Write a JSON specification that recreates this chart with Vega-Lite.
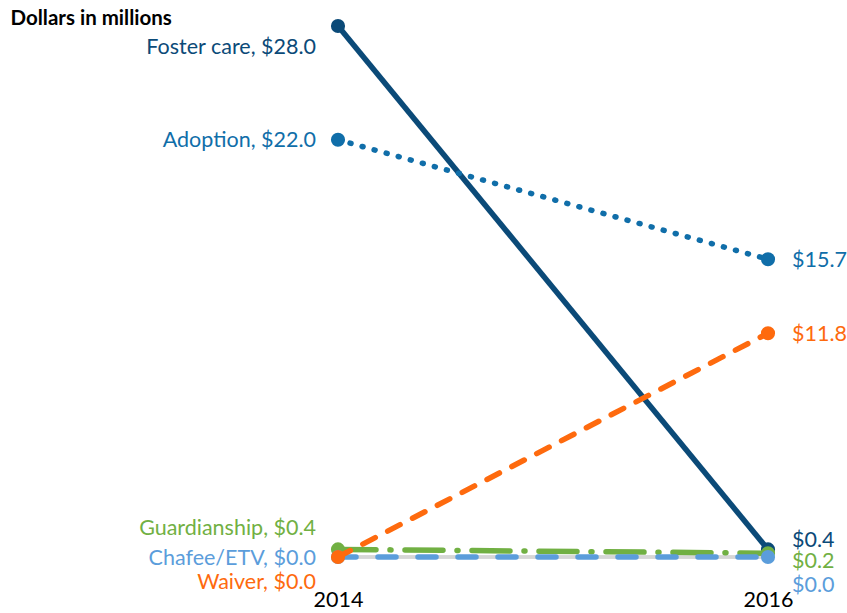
{
  "$schema": "https://vega.github.io/schema/vega-lite/v6.json",
  "width": 430,
  "height": 531,
  "autosize": {"type": "none"},
  "padding": {"left": 338, "top": 26, "right": 79, "bottom": 56},
  "background": "white",
  "config": {"font": "Lato", "view": {"stroke": null}},
  "data": {"values": [
    {"series": "Foster care", "year": 2014, "value": 28.0, "label": "Foster care, $28.0"},
    {"series": "Foster care", "year": 2016, "value": 0.4, "label": "$0.4"},
    {"series": "Adoption", "year": 2014, "value": 22.0, "label": "Adoption, $22.0"},
    {"series": "Adoption", "year": 2016, "value": 15.7, "label": "$15.7"},
    {"series": "Guardianship", "year": 2014, "value": 0.4, "label": "Guardianship, $0.4"},
    {"series": "Guardianship", "year": 2016, "value": 0.2, "label": "$0.2"},
    {"series": "Chafee/ETV", "year": 2014, "value": 0.0, "label": "Chafee/ETV, $0.0"},
    {"series": "Chafee/ETV", "year": 2016, "value": 0.0, "label": "$0.0"},
    {"series": "Waiver", "year": 2014, "value": 0.0, "label": "Waiver, $0.0"},
    {"series": "Waiver", "year": 2016, "value": 11.8, "label": "$11.8"}
  ]},
  "encoding": {
    "x": {"field": "year", "type": "quantitative", "scale": {"domain": [2014, 2016]},
      "axis": {"values": [2014, 2016], "format": "d", "title": null, "domain": false, "ticks": false, "grid": false,
        "labelFontSize": 21.5, "labelColor": "#000000", "labelPadding": 32, "labelBaseline": "top", "labelFlush": false}},
    "y": {"field": "value", "type": "quantitative", "scale": {"domain": [0, 28]},
      "axis": {"title": "Dollars in millions", "labels": false, "ticks": false, "domain": false, "grid": false,
        "titleAngle": 0, "titleX": -328, "titleY": -2, "titleAlign": "left", "titleBaseline": "alphabetic",
        "titleFontSize": 20.5, "titleFontWeight": "bold", "titleColor": "#000000"}}
  },
  "layer": [
    {"mark": {"type": "rule", "color": "#d6d6d6", "strokeWidth": 2.5}, "encoding": {"y": {"datum": 0}, "x": {"datum": 2014}, "x2": {"datum": 2016}}},
    {"transform": [{"filter": "datum.series === 'Foster care'"}], "mark": {"type": "line", "color": "#0b4a78", "strokeWidth": 5.5}},
    {"transform": [{"filter": "datum.series === 'Foster care'"}], "mark": {"type": "circle", "color": "#0b4a78", "opacity": 1, "size": 200}},
    {"transform": [{"filter": "datum.series === 'Adoption'"}], "mark": {"type": "line", "color": "#106ea9", "strokeWidth": 5.5, "strokeDash": [1, 11.5], "strokeCap": "round"}},
    {"transform": [{"filter": "datum.series === 'Adoption'"}], "mark": {"type": "circle", "color": "#106ea9", "opacity": 1, "size": 200}},
    {"transform": [{"filter": "datum.series === 'Guardianship'"}], "mark": {"type": "line", "color": "#71b043", "strokeWidth": 5.5, "strokeDash": [38, 14, 1, 14], "strokeCap": "round"}},
    {"transform": [{"filter": "datum.series === 'Guardianship'"}], "mark": {"type": "circle", "color": "#71b043", "opacity": 1, "size": 200}},
    {"transform": [{"filter": "datum.series === 'Chafee/ETV'"}], "mark": {"type": "line", "color": "#5b9ddb", "strokeWidth": 5.5, "strokeDash": [18, 22], "strokeCap": "round"}},
    {"transform": [{"filter": "datum.series === 'Chafee/ETV'"}], "mark": {"type": "circle", "color": "#5b9ddb", "opacity": 1, "size": 200}},
    {"transform": [{"filter": "datum.series === 'Waiver'"}], "mark": {"type": "line", "color": "#fe6a0e", "strokeWidth": 5.5, "strokeDash": [14, 14], "strokeCap": "round"}},
    {"transform": [{"filter": "datum.series === 'Waiver'"}], "mark": {"type": "circle", "color": "#fe6a0e", "opacity": 1, "size": 200}},

    {"transform": [{"filter": "datum.series === 'Foster care' && datum.year === 2014"}], "mark": {"type": "text", "align": "right", "baseline": "middle", "dx": -22, "dy": 22, "fontSize": 21.5, "color": "#0b4a78"}, "encoding": {"text": {"field": "label"}}},
    {"transform": [{"filter": "datum.series === 'Adoption' && datum.year === 2014"}], "mark": {"type": "text", "align": "right", "baseline": "middle", "dx": -22, "dy": 1, "fontSize": 21.5, "color": "#106ea9"}, "encoding": {"text": {"field": "label"}}},
    {"transform": [{"filter": "datum.series === 'Guardianship' && datum.year === 2014"}], "mark": {"type": "text", "align": "right", "baseline": "middle", "dx": -22, "dy": -20, "fontSize": 21.5, "color": "#71b043"}, "encoding": {"text": {"field": "label"}}},
    {"transform": [{"filter": "datum.series === 'Chafee/ETV' && datum.year === 2014"}], "mark": {"type": "text", "align": "right", "baseline": "middle", "dx": -22, "dy": 2, "fontSize": 21.5, "color": "#5b9ddb"}, "encoding": {"text": {"field": "label"}}},
    {"transform": [{"filter": "datum.series === 'Waiver' && datum.year === 2014"}], "mark": {"type": "text", "align": "right", "baseline": "middle", "dx": -22, "dy": 26, "fontSize": 21.5, "color": "#fe6a0e"}, "encoding": {"text": {"field": "label"}}},

    {"transform": [{"filter": "datum.series === 'Foster care' && datum.year === 2016"}], "mark": {"type": "text", "align": "left", "baseline": "middle", "dx": 24, "dy": -8, "fontSize": 21.5, "color": "#0b4a78"}, "encoding": {"text": {"field": "label"}}},
    {"transform": [{"filter": "datum.series === 'Adoption' && datum.year === 2016"}], "mark": {"type": "text", "align": "left", "baseline": "middle", "dx": 24, "dy": 2, "fontSize": 21.5, "color": "#106ea9"}, "encoding": {"text": {"field": "label"}}},
    {"transform": [{"filter": "datum.series === 'Guardianship' && datum.year === 2016"}], "mark": {"type": "text", "align": "left", "baseline": "middle", "dx": 24, "dy": 9, "fontSize": 21.5, "color": "#71b043"}, "encoding": {"text": {"field": "label"}}},
    {"transform": [{"filter": "datum.series === 'Chafee/ETV' && datum.year === 2016"}], "mark": {"type": "text", "align": "left", "baseline": "middle", "dx": 24, "dy": 29, "fontSize": 21.5, "color": "#5b9ddb"}, "encoding": {"text": {"field": "label"}}},
    {"transform": [{"filter": "datum.series === 'Waiver' && datum.year === 2016"}], "mark": {"type": "text", "align": "left", "baseline": "middle", "dx": 24, "dy": 2, "fontSize": 21.5, "color": "#fe6a0e"}, "encoding": {"text": {"field": "label"}}}
  ]
}
